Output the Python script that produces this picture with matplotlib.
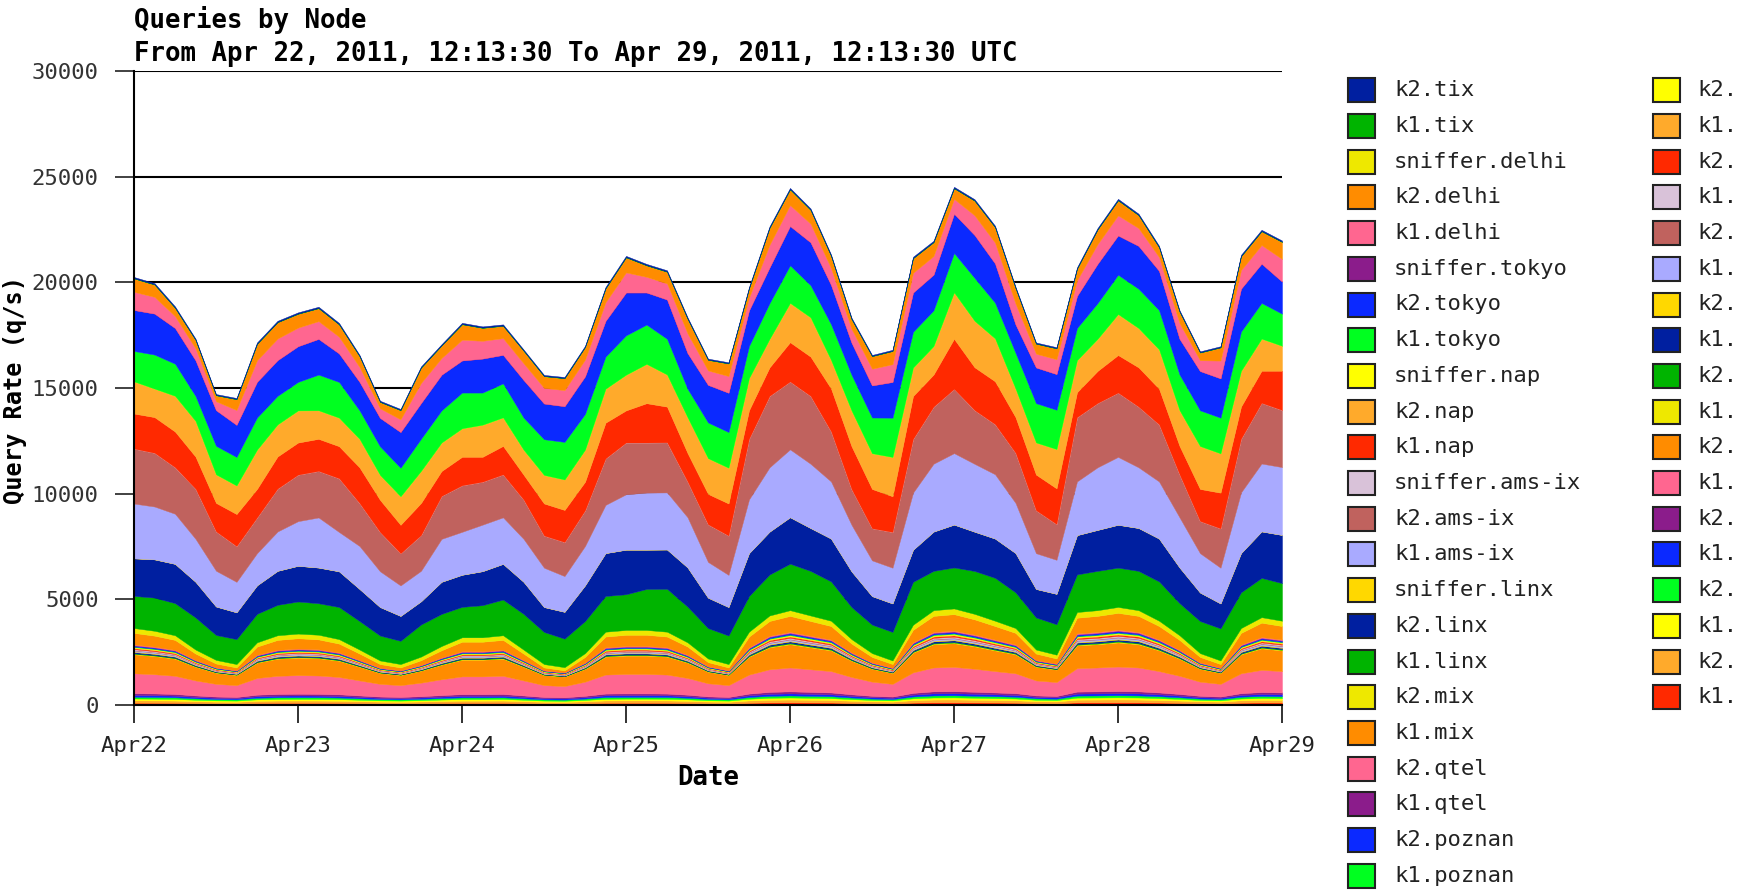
import numpy as np
import pandas as pd
import matplotlib
matplotlib.use("Agg")
from matplotlib import pyplot as plt
from matplotlib.patches import Rectangle
import matplotlib.dates as mdates

# 3-hourly samples, Apr 22 00:00 .. Apr 29 00:00
times = pd.date_range("2011-04-22 00:00", "2011-04-29 00:00", freq="3h")

# ---- series, in legend order (first one sits on top of the stack) ----
k2_tix = [60, 60, 60, 50, 50, 50, 60, 60, 60, 60, 60, 50, 50, 50, 50, 50, 60, 60, 60, 50,
          50, 50, 50, 60, 60, 60, 60, 60, 50, 50, 60, 60, 60, 60, 60, 60, 50, 50, 60, 60,
          60, 60, 60, 60, 50, 50, 60, 60, 60, 60, 60, 60, 50, 50, 60, 60, 60]
k1_tix = [10, 10, 10, 10, 10, 10, 10, 10, 10, 10, 10, 10, 10, 10, 10, 10, 10, 10, 10, 10,
          10, 10, 10, 10, 10, 10, 10, 10, 10, 10, 10, 10, 10, 10, 10, 10, 10, 10, 10, 10,
          10, 10, 10, 10, 10, 10, 10, 10, 10, 10, 10, 10, 10, 10, 10, 10, 10]
sniffer_delhi = [0, 0, 0, 0, 0, 0, 0, 0, 0, 0, 0, 0, 0, 0, 0, 0, 0, 0, 0, 0, 0, 0, 0, 0, 0, 0, 0, 0, 0,
                 0, 0, 0, 0, 0, 0, 0, 0, 0, 0, 0, 0, 0, 0, 0, 0, 0, 0, 0, 0, 0, 0, 0, 0, 0, 0, 0, 0]
k2_delhi = [630, 580, 390, 400, 280, 510, 770, 770, 650, 610, 580, 510, 300, 430, 720, 590, 730, 610, 580, 590,
            550, 560, 590, 650, 710, 540, 550, 690, 500, 590, 430, 800, 740, 650, 580, 460, 590, 620, 690, 650,
            500, 690, 730, 730, 470, 510, 540, 690, 710, 610, 460, 540, 360, 620, 650, 650, 800]
k1_delhi = [860, 790, 560, 560, 420, 700, 1020, 1020, 880, 840, 790, 700, 450, 600, 950, 790, 980, 840, 790, 790,
            740, 760, 790, 880, 950, 740, 760, 930, 680, 790, 600, 1070, 990, 880, 790, 650, 790, 840, 930, 880,
            700, 930, 980, 980, 650, 700, 740, 930, 950, 840, 650, 740, 510, 840, 880, 880, 1070]
sniffer_tokyo = [0, 0, 0, 0, 0, 0, 0, 0, 0, 0, 0, 0, 0, 0, 0, 0, 0, 0, 0, 0, 0, 0, 0, 0, 0, 0, 0, 0, 0,
                 0, 0, 0, 0, 0, 0, 0, 0, 0, 0, 0, 0, 0, 0, 0, 0, 0, 0, 0, 0, 0, 0, 0, 0, 0, 0, 0, 0]
k2_tokyo = [1940, 1940, 1690, 1690, 1690, 1520, 1690, 1690, 1690, 1690,
            1350, 1350, 1350, 1690, 1690, 1690, 1520, 1610, 1350, 1780,
            1690, 1690, 1780, 1690, 2030, 1520, 1860, 1690, 1780, 1860,
            1690, 1690, 1860, 2030, 1860, 1520, 1520, 1690, 1860, 1690,
            1860, 2030, 1860, 1350, 1690, 1690, 1520, 1860, 1860, 2030,
            1860, 1690, 1860, 1860, 2030, 1860, 1520]
k1_tokyo = [1440, 1610, 1520, 1180, 1350, 1350, 1520, 1350, 1350, 1690,
            1690, 1350, 1350, 1350, 1520, 1520, 1690, 1520, 1610, 1520,
            1690, 1780, 1690, 1520, 1860, 1860, 1690, 1350, 1690, 1690,
            1520, 1690, 1780, 1520, 1690, 1690, 1690, 1860, 1690, 1690,
            1860, 2030, 1690, 1690, 1860, 1860, 1520, 1690, 1860, 1860,
            1860, 1690, 1690, 1690, 1860, 1690, 1520]
sniffer_nap = [0, 0, 0, 0, 0, 0, 0, 0, 0, 0, 0, 0, 0, 0, 0, 0, 0, 0, 0, 0, 0, 0, 0, 0, 0, 0, 0, 0, 0,
               0, 0, 0, 0, 0, 0, 0, 0, 0, 0, 0, 0, 0, 0, 0, 0, 0, 0, 0, 0, 0, 0, 0, 0, 0, 0, 0, 0]
k2_nap = [1520, 1350, 1690, 1690, 1350, 1350, 1860, 1520, 1520, 1350,
          1350, 1350, 1180, 1350, 1520, 1350, 1350, 1520, 1350, 1180,
          1350, 1440, 1520, 1610, 1690, 1860, 1520, 1690, 1690, 1690,
          1520, 1350, 1860, 1860, 1350, 1690, 1690, 1860, 1350, 1350,
          2200, 2200, 2030, 1350, 1520, 1860, 1520, 1520, 1940, 1860,
          1860, 1690, 2030, 1860, 1690, 1520, 1180]
k1_nap = [1660, 1690, 1690, 1520, 1350, 1520, 1350, 1520, 1520, 1520,
          1520, 1690, 1520, 1350, 1520, 1180, 1350, 1180, 1350, 1180,
          1520, 1520, 1350, 1690, 1520, 1860, 1690, 1350, 1440, 1520,
          1350, 1350, 1860, 1860, 2030, 2030, 1860, 1690, 2030, 1520,
          2370, 2030, 2030, 1690, 1690, 1690, 1180, 1520, 1780, 1860,
          1690, 1350, 1520, 1690, 1520, 1520, 1860]
sniffer_amsix = [0, 0, 0, 0, 0, 0, 0, 0, 0, 0, 0, 0, 0, 0, 0, 0, 0, 0, 0, 0, 0, 0, 0, 0, 0, 0, 0, 0, 0,
                 0, 0, 0, 0, 0, 0, 0, 0, 0, 0, 0, 0, 0, 0, 0, 0, 0, 0, 0, 0, 0, 0, 0, 0, 0, 0, 0, 0]
k2_amsix = [2600, 2540, 2200, 2370, 1860, 1690, 1690, 2030, 2200, 2200,
            2540, 2030, 1860, 1520, 1690, 2030, 2200, 2030, 2030, 1860,
            1520, 1610, 1690, 2200, 2450, 2370, 2370, 1690, 1780, 1860,
            2870, 3380, 3210, 3210, 2370, 1690, 1520, 1690, 2540, 2700,
            3040, 2540, 2370, 2370, 2030, 1690, 3040, 3040, 3040, 2870,
            2700, 2030, 1520, 1860, 2540, 2870, 2700]
k1_amsix = [2590, 2500, 2370, 2030, 1690, 1440, 1520, 1860, 2110, 2370,
            1860, 2030, 1690, 1440, 1440, 2030, 2030, 2200, 2200, 2030,
            1860, 1690, 1860, 2280, 2620, 2700, 2700, 2370, 1690, 1520,
            2540, 3040, 3210, 3040, 2700, 2200, 1690, 1690, 2700, 3210,
            3380, 3210, 3040, 2370, 1690, 1610, 2540, 2960, 3210, 2870,
            2700, 2370, 1860, 1690, 2870, 3210, 3210]
sniffer_linx = [0, 0, 0, 0, 0, 0, 0, 0, 0, 0, 0, 0, 0, 0, 0, 0, 0, 0, 0, 0, 0, 0, 0, 0, 0, 0, 0, 0, 0,
                0, 0, 0, 0, 0, 0, 0, 0, 0, 0, 0, 0, 0, 0, 0, 0, 0, 0, 0, 0, 0, 0, 0, 0, 0, 0, 0, 0]
k2_linx = [1780, 1810, 1860, 1690, 1350, 1270, 1350, 1610, 1690, 1690,
           1690, 1520, 1350, 1180, 1100, 1520, 1520, 1610, 1690, 1520,
           1180, 1270, 1690, 2030, 2110, 1860, 1860, 1860, 1440, 1350,
           2030, 2030, 2200, 2030, 2030, 1690, 1350, 1350, 1520, 1860,
           2030, 1860, 1860, 1860, 1350, 1440, 1860, 1940, 2030, 2030,
           2030, 1690, 1350, 1180, 1860, 2200, 2280]
k1_linx = [1520, 1570, 1520, 1520, 1180, 1180, 1350, 1440, 1520, 1490,
           1520, 1350, 1180, 1100, 1520, 1520, 1440, 1520, 1690, 1690,
           1520, 1350, 1520, 1690, 1690, 1940, 2030, 1690, 1440, 1350,
           1690, 1940, 2200, 2110, 1860, 1520, 1350, 1350, 2030, 1860,
           1940, 2030, 2030, 1690, 1520, 1440, 1780, 1860, 1860, 1860,
           1860, 1520, 1520, 1520, 1690, 1860, 1780]
k2_mix = [230, 230, 220, 190, 170, 160, 200, 220, 220, 220, 210, 190, 170, 160, 170, 200, 210, 210, 220, 190,
          160, 150, 180, 230, 230, 230, 230, 200, 170, 160, 230, 260, 270, 260, 250, 210, 180, 170, 240, 270,
          270, 260, 250, 230, 190, 180, 270, 270, 280, 270, 250, 220, 180, 170, 230, 260, 250]
k1_mix = [550, 520, 470, 300, 180, 130, 390, 470, 490, 470, 420, 300, 170, 130, 220, 340, 450, 450, 470, 300,
          130, 90, 260, 510, 530, 530, 510, 390, 190, 130, 510, 700, 760, 700, 640, 420, 260, 170, 590, 760,
          780, 720, 640, 550, 300, 240, 740, 760, 800, 760, 640, 470, 260, 170, 550, 680, 640]
k2_qtel = [28, 27, 25, 19, 15, 14, 22, 25, 26, 25, 23, 19, 15, 14, 16, 21, 24, 24, 25, 19, 14, 12, 18, 26, 27, 27, 26, 22, 16,
           14, 26, 33, 35, 33, 31, 23, 18, 15, 29, 35, 36, 33, 31, 28, 19, 17, 34, 35, 36, 35, 31, 25, 18, 15, 28, 32, 31]
k1_qtel = [23, 22, 21, 16, 13, 11, 18, 21, 21, 21, 20, 16, 12, 11, 14, 17, 20, 20, 21, 16, 11, 10, 15, 22, 23, 23, 22, 18, 13,
           11, 22, 27, 29, 27, 26, 20, 15, 12, 24, 29, 30, 28, 26, 23, 16, 14, 28, 29, 30, 29, 26, 21, 15, 12, 23, 27, 26]
k2_poznan = [46, 45, 42, 32, 25, 23, 37, 42, 43, 42, 39, 32, 25, 23, 27, 34, 40, 40, 42, 32, 23, 21, 30, 44, 45, 45, 44, 37, 26,
             23, 44, 55, 58, 55, 51, 39, 30, 25, 49, 58, 59, 56, 51, 46, 32, 29, 57, 58, 60, 58, 51, 42, 30, 25, 46, 53, 51]
k1_poznan = [23, 22, 21, 16, 13, 11, 18, 21, 21, 21, 20, 16, 12, 11, 14, 17, 20, 20, 21, 16, 11, 10, 15, 22, 23, 23, 22, 18, 13,
             11, 22, 27, 29, 27, 26, 20, 15, 12, 24, 29, 30, 28, 26, 23, 16, 14, 28, 29, 30, 29, 26, 21, 15, 12, 23, 27, 26]

# second legend column (names are cut off in the original image)
k2_a = [32, 31, 29, 23, 18, 16, 26, 29, 30, 29, 27, 23, 17, 16, 19, 24, 28, 28, 29, 23, 16, 14, 21, 31, 32, 32, 31, 26, 18,
        16, 31, 38, 41, 38, 36, 27, 21, 17, 34, 41, 42, 39, 36, 32, 23, 20, 40, 41, 42, 41, 36, 29, 21, 17, 32, 37, 36]
k1_a = [23, 22, 21, 16, 13, 11, 18, 21, 21, 21, 20, 16, 12, 11, 14, 17, 20, 20, 21, 16, 11, 10, 15, 22, 23, 23, 22, 18, 13,
        11, 22, 27, 29, 27, 26, 20, 15, 12, 24, 29, 30, 28, 26, 23, 16, 14, 28, 29, 30, 29, 26, 21, 15, 12, 23, 27, 26]
k2_b = [46, 45, 42, 32, 25, 23, 37, 42, 43, 42, 39, 32, 25, 23, 27, 34, 40, 40, 42, 32, 23, 21, 30, 44, 45, 45, 44, 37, 26,
        23, 44, 55, 58, 55, 51, 39, 30, 25, 49, 58, 59, 56, 51, 46, 32, 29, 57, 58, 60, 58, 51, 42, 30, 25, 46, 53, 51]
k1_b = [37, 36, 33, 26, 20, 18, 30, 33, 34, 34, 31, 26, 20, 18, 22, 28, 32, 32, 33, 26, 18, 16, 24, 35, 36, 36, 35, 30, 21,
        18, 35, 44, 46, 44, 41, 31, 24, 20, 39, 46, 47, 44, 41, 37, 26, 23, 45, 46, 48, 46, 41, 33, 24, 20, 37, 43, 41]
k2_c = [23, 22, 21, 16, 13, 11, 18, 21, 21, 21, 20, 16, 12, 11, 14, 17, 20, 20, 21, 16, 11, 10, 15, 22, 23, 23, 22, 18, 13,
        11, 22, 27, 29, 27, 26, 20, 15, 12, 24, 29, 30, 28, 26, 23, 16, 14, 28, 29, 30, 29, 26, 21, 15, 12, 23, 27, 26]
k1_c = [46, 45, 42, 32, 25, 23, 37, 42, 43, 42, 39, 32, 25, 23, 27, 34, 40, 40, 42, 32, 23, 21, 30, 44, 45, 45, 44, 37, 26,
        23, 44, 55, 58, 55, 51, 39, 30, 25, 49, 58, 59, 56, 51, 46, 32, 29, 57, 58, 60, 58, 51, 42, 30, 25, 46, 53, 51]
k2_d = [28, 27, 25, 19, 15, 14, 22, 25, 26, 25, 23, 19, 15, 14, 16, 21, 24, 24, 25, 19, 14, 12, 18, 26, 27, 27, 26, 22, 16,
        14, 26, 33, 35, 33, 31, 23, 18, 15, 29, 35, 36, 33, 31, 28, 19, 17, 34, 35, 36, 35, 31, 25, 18, 15, 28, 32, 31]
k1_d = [56, 53, 50, 39, 30, 27, 44, 50, 51, 50, 47, 39, 30, 27, 33, 41, 48, 48, 50, 39, 27, 25, 36, 53, 54, 54, 53, 44, 31,
        27, 53, 65, 70, 65, 61, 47, 36, 30, 58, 70, 71, 67, 61, 56, 39, 34, 68, 70, 72, 70, 61, 50, 36, 30, 56, 64, 61]
k2_e = [28, 27, 25, 19, 15, 14, 22, 25, 26, 25, 23, 19, 15, 14, 16, 21, 24, 24, 25, 19, 14, 12, 18, 26, 27, 27, 26, 22, 16,
        14, 26, 33, 35, 33, 31, 23, 18, 15, 29, 35, 36, 33, 31, 28, 19, 17, 34, 35, 36, 35, 31, 25, 18, 15, 28, 32, 31]
k1_e = [23, 22, 21, 16, 13, 11, 18, 21, 21, 21, 20, 16, 12, 11, 14, 17, 20, 20, 21, 16, 11, 10, 15, 22, 23, 23, 22, 18, 13,
        11, 22, 27, 29, 27, 26, 20, 15, 12, 24, 29, 30, 28, 26, 23, 16, 14, 28, 29, 30, 29, 26, 21, 15, 12, 23, 27, 26]
k2_f = [900, 860, 810, 650, 530, 480, 730, 810, 830, 820, 770, 650, 520, 480, 570, 690, 790, 790, 810, 650,
        480, 450, 610, 850, 870, 870, 850, 730, 550, 480, 850, 1040, 1100, 1040, 980, 770, 610, 520, 940, 1100,
        1120, 1060, 980, 900, 650, 590, 1080, 1100, 1140, 1100, 980, 810, 610, 520, 900, 1020, 980]
k1_f = [940, 910, 860, 710, 600, 560, 790, 860, 880, 870, 820, 710, 600, 560, 640, 750, 840, 840, 860, 710,
        560, 530, 670, 900, 920, 920, 900, 790, 620, 560, 900, 1070, 1130, 1070, 1010, 820, 670, 600, 970, 1130,
        1150, 1090, 1010, 940, 710, 660, 1110, 1130, 1160, 1130, 1010, 860, 670, 600, 940, 1050, 1010]
k2_g = [84, 82, 78, 68, 60, 57, 73, 78, 80, 79, 76, 68, 60, 57, 63, 70, 77, 77, 78, 68, 57, 55, 65, 81, 82, 82, 81, 73, 61,
        57, 81, 93, 97, 93, 89, 76, 65, 60, 86, 97, 98, 94, 89, 84, 68, 64, 95, 97, 99, 97, 89, 78, 65, 60, 84, 92, 89]
k1_g = [84, 82, 78, 68, 60, 57, 73, 78, 80, 79, 76, 68, 60, 57, 63, 70, 77, 77, 78, 68, 57, 55, 65, 81, 82, 82, 81, 73, 61,
        57, 81, 93, 97, 93, 89, 76, 65, 60, 86, 97, 98, 94, 89, 84, 68, 64, 95, 97, 99, 97, 89, 78, 65, 60, 84, 92, 89]
k2_h = [84, 82, 78, 68, 60, 57, 73, 78, 80, 79, 76, 68, 60, 57, 63, 70, 77, 77, 78, 68, 57, 55, 65, 81, 82, 82, 81, 73, 61,
        57, 81, 93, 97, 93, 89, 76, 65, 60, 86, 97, 98, 94, 89, 84, 68, 64, 95, 97, 99, 97, 89, 78, 65, 60, 84, 92, 89]
k1_h = [84, 82, 78, 68, 60, 57, 73, 78, 80, 79, 76, 68, 60, 57, 63, 70, 77, 77, 78, 68, 57, 55, 65, 81, 82, 82, 81, 73, 61,
        57, 81, 93, 97, 93, 89, 76, 65, 60, 86, 97, 98, 94, 89, 84, 68, 64, 95, 97, 99, 97, 89, 78, 65, 60, 84, 92, 89]
k2_i = [112, 109, 105, 90, 80, 76, 98, 105, 106, 105, 101, 90, 80, 76, 83, 94, 103, 103, 105, 90, 76, 73, 87, 108, 110, 110,
        108, 98, 82, 76, 108, 124, 129, 124, 119, 101, 87, 80, 115, 129, 131, 125, 119, 112, 90, 85, 127, 129, 132, 129,
        119, 105, 87, 80, 112, 122, 119]
k1_i = [112, 109, 105, 90, 80, 76, 98, 105, 106, 105, 101, 90, 80, 76, 83, 94, 103, 103, 105, 90, 76, 73, 87, 108, 110, 110,
        108, 98, 82, 76, 108, 124, 129, 124, 119, 101, 87, 80, 115, 129, 131, 125, 119, 112, 90, 85, 127, 129, 132, 129,
        119, 105, 87, 80, 112, 122, 119]

labels_col1 = ["k2.tix", "k1.tix", "sniffer.delhi", "k2.delhi", "k1.delhi", "sniffer.tokyo",
               "k2.tokyo", "k1.tokyo", "sniffer.nap", "k2.nap", "k1.nap", "sniffer.ams-ix",
               "k2.ams-ix", "k1.ams-ix", "sniffer.linx", "k2.linx", "k1.linx", "k2.mix",
               "k1.mix", "k2.qtel", "k1.qtel", "k2.poznan", "k1.poznan"]
labels_col2 = ["k2.", "k1.", "k2.", "k1.", "k2.", "k1.", "k2.", "k1.", "k2.",
               "k1.", "k2.", "k1.", "k2.", "k1.", "k2.", "k1.", "k2.", "k1."]

series = [k2_tix, k1_tix, sniffer_delhi, k2_delhi, k1_delhi, sniffer_tokyo,
          k2_tokyo, k1_tokyo, sniffer_nap, k2_nap, k1_nap, sniffer_amsix,
          k2_amsix, k1_amsix, sniffer_linx, k2_linx, k1_linx, k2_mix,
          k1_mix, k2_qtel, k1_qtel, k2_poznan, k1_poznan,
          k2_a, k1_a, k2_b, k1_b, k2_c, k1_c, k2_d, k1_d, k2_e,
          k1_e, k2_f, k1_f, k2_g, k1_g, k2_h, k1_h, k2_i, k1_i]

# colour cycle of the graphing tool
palette = ["#001FA0", "#00B400", "#EEE800", "#FF8C00", "#FF6690",
           "#8B1C8B", "#0B29FF", "#00FF20", "#FFFF00", "#FFAA2B",
           "#FF2900", "#D9C2D9", "#C0625E", "#A9AAFF", "#FFD800"]
colors = [palette[i % len(palette)] for i in range(len(series))]

plt.rcParams['font.family'] = ['DejaVu Sans Mono']

W, H = 1748, 890
fig = plt.figure(figsize=(W / 100, H / 100), dpi=100)
ax = fig.add_axes([134 / W, 1 - 705 / H, (1282 - 134) / W, (705 - 71) / H])

# stack: the last legend entry is at the bottom
ax.stackplot(times, *[np.array(s) for s in series[::-1]], colors=colors[::-1],
             edgecolor='face', linewidth=0.3)

ax.set_xlim(times[0], times[-1])
ax.set_ylim(0, 30000)
ax.set_yticks(range(0, 30001, 5000))
ax.yaxis.grid(True, color='black', linewidth=1.5)
ax.set_axisbelow(True)

ax.xaxis.set_major_locator(mdates.DayLocator())
ax.xaxis.set_major_formatter(mdates.DateFormatter('%b%d'))

for side in ['top', 'right']:
    ax.spines[side].set_visible(False)
for side in ['left', 'bottom']:
    ax.spines[side].set_linewidth(1.5)
    ax.spines[side].set_color('black')

ax.tick_params(axis='y', length=13.5, width=1.3, pad=12, labelsize=16, colors='#333333')
ax.tick_params(axis='x', length=13, width=1.3, pad=9, labelsize=16, colors='#222222')

# titles and axis names
fig.text(134 / W, 1 - 20 / H, 'Queries by Node', fontsize=18.5, fontweight='bold', va='center')
fig.text(134 / W, 1 - 54 / H, 'From Apr 22, 2011, 12:13:30 To Apr 29, 2011, 12:13:30 UTC',
         fontsize=18.5, fontweight='bold', va='center')
fig.text(708 / W, 1 - 778 / H, 'Date', fontsize=18.5, fontweight='bold', ha='center', va='center')
fig.text(15 / W, 1 - 390 / H, 'Query Rate (q/s)', fontsize=17, fontweight='bold',
         rotation=90, ha='center', va='center')

# legend, two columns drawn by hand (23 + 18 rows)
row0, pitch = 90.3, 35.7
columns = [(1348, 1394, labels_col1, colors[:23]),
           (1653, 1697, labels_col2, colors[23:])]
for box_x, text_x, labs, cols in columns:
    for k, (lab, col) in enumerate(zip(labs, cols)):
        yc = row0 + pitch * k
        fig.add_artist(Rectangle((box_x / W, 1 - (yc + 12) / H), 27 / W, 24 / H,
                                 transform=fig.transFigure, facecolor=col,
                                 edgecolor='#222222', linewidth=1.5))
        fig.text(text_x / W, 1 - yc / H, lab, fontsize=16, va='center', color='#222222')

fig.savefig('out.png', dpi=100)
